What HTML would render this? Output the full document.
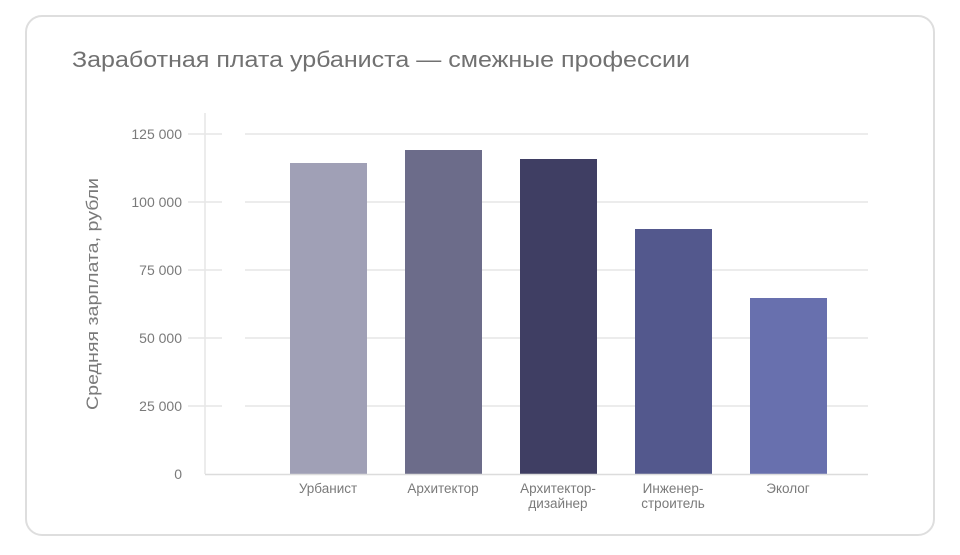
<!DOCTYPE html>
<html><head><meta charset="utf-8"><style>html,body{margin:0;padding:0;background:#fff}</style></head>
<body>
<svg width="960" height="550" xmlns="http://www.w3.org/2000/svg" font-family="Liberation Sans, sans-serif">
<rect x="26" y="16" width="908" height="519" rx="16" fill="#fff" stroke="#dedede" stroke-width="2"/>
<text x="72" y="67" font-size="22" fill="#717171" textLength="618" lengthAdjust="spacingAndGlyphs">Заработная плата урбаниста — смежные профессии</text>
<g stroke="#e6e6e6" stroke-width="1.5">
<line x1="245" y1="134" x2="868" y2="134"/><line x1="245" y1="202" x2="868" y2="202"/>
<line x1="245" y1="270" x2="868" y2="270"/><line x1="245" y1="338" x2="868" y2="338"/>
<line x1="245" y1="406" x2="868" y2="406"/>
<line x1="188" y1="134" x2="222" y2="134"/><line x1="188" y1="202" x2="222" y2="202"/>
<line x1="188" y1="270" x2="222" y2="270"/><line x1="188" y1="338" x2="222" y2="338"/>
<line x1="188" y1="406" x2="222" y2="406"/>
<line x1="205" y1="113" x2="205" y2="474"/>
</g>
<g font-size="14" fill="#7a7a7a" text-anchor="end">
<text x="182" y="139">125 000</text><text x="182" y="207">100 000</text>
<text x="182" y="275">75 000</text><text x="182" y="343">50 000</text>
<text x="182" y="411">25 000</text><text x="182" y="479">0</text>
</g>
<text transform="translate(98 294) rotate(-90)" font-size="17" fill="#7a7a7a" text-anchor="middle" textLength="232" lengthAdjust="spacingAndGlyphs">Средняя зарплата, рубли</text>
<rect x="290" y="163" width="77" height="311" fill="#a0a0b6"/>
<rect x="405" y="150" width="77" height="324" fill="#6c6c8a"/>
<rect x="520" y="159" width="77" height="315" fill="#3f3e63"/>
<rect x="635" y="229" width="77" height="245" fill="#53588d"/>
<rect x="750" y="298" width="77" height="176" fill="#6870ae"/>
<line x1="205" y1="474.5" x2="868" y2="474.5" stroke="#dcdcdc" stroke-width="1.5"/>
<g font-size="13.5" fill="#7a7a7a" text-anchor="middle">
<text x="328" y="493">Урбанист</text>
<text x="443" y="493">Архитектор</text>
<text x="558" y="493">Архитектор-</text><text x="558" y="508">дизайнер</text>
<text x="673" y="493">Инженер-</text><text x="673" y="508">строитель</text>
<text x="788" y="493">Эколог</text>
</g>
</svg>
</body></html>
